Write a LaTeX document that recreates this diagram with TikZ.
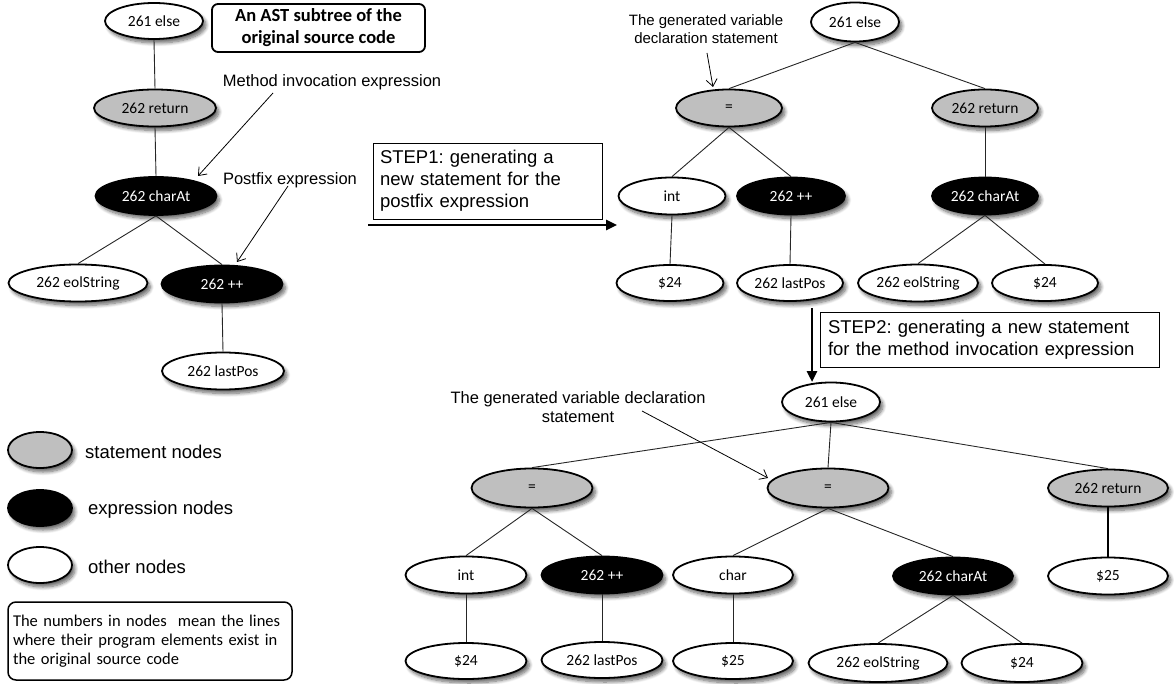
\documentclass[tikz,border=0pt]{standalone}
\usepackage{fontspec}
\setmainfont{Carlito}
\newfontfamily\arial{Liberation Sans}
\usetikzlibrary{shapes.geometric,arrows.meta,shadows.blur}
\definecolor{stmtgray}{RGB}{191,191,191}
\frenchspacing
\tikzset{
  tn/.style={ellipse, draw=black, line width=1.8pt, inner sep=0pt, fill=white,
    font=\fontsize{15.5}{17}\selectfont,
    blur shadow={shadow xshift=3pt, shadow yshift=-4pt, shadow blur steps=8, shadow blur radius=3.5pt, shadow opacity=60}},
  sz/.style 2 args={minimum width=#1pt, minimum height=#2pt},
  stmt/.style={tn, fill=stmtgray},
  expr/.style={tn, fill=black, text=white},
  oth/.style={tn, fill=white},
  edge/.style={draw=black!85, line width=0.9pt},
  annarrow/.style={-{Straight Barb[length=7pt,width=11pt]}, line width=0.8pt},
  steparrow/.style={-{Triangle[length=11pt,width=10pt]}, line width=2.5pt},
  lab/.style={font=\arial\fontsize{16.5}{19}\selectfont, align=center, inner sep=0pt},
  legtext/.style={font=\arial\fontsize{18.5}{21}\selectfont, anchor=west, inner sep=0pt},
  stepbox/.style={draw=black, line width=0.8pt, align=left, font=\arial\fontsize{18.5}{22}\selectfont}
}
\begin{document}
\begin{tikzpicture}[x=1pt,y=-1pt]
\useasboundingbox (0,0) rectangle (1174,684);

% ---------- left tree ----------
\node[oth, sz={98}{36}] (L1) at (154,21) {261 else};
\node[stmt, sz={122}{37}] (L2) at (155,108) {262 return};
\node[expr, sz={121}{38}] (L3) at (156,196) {262 charAt};
\node[oth, sz={139}{37}] (L4) at (78,283) {262 eolString};
\node[expr, sz={121}{37}] (L5) at (222,284) {262 ++};
\node[oth, sz={122}{37}] (L6) at (223,371) {262 lastPos};
\draw[edge] (L1.south) -- (L2.north);
\draw[edge] (L2.south) -- (L3.north);
\draw[edge] (L3.south) -- (L4.north);
\draw[edge] (L3.south) -- (L5.north);
\draw[edge] (L5.south) -- (L6.north);

\node[draw=black, line width=1.8pt, rounded corners=6pt, sz={213}{48}, align=center,
  font=\bfseries\fontsize{18.5}{22}\selectfont] (ast) at (318.5,28) {An AST subtree of the\\original source code};

\node[lab] (mie) at (332,82) {Method invocation expression};
\node[lab] (pfe) at (290,180) {Postfix expression};
\coordinate (m1) at (273,93);
\coordinate (m2) at (198,176);
\coordinate (p1) at (288,186);
\coordinate (p2) at (237,262);
\draw[annarrow] (m1) -- (m2);
\draw[annarrow] (p1) -- (p2);

% ---------- legend ----------
\node[stmt, sz={64}{36}] (lg1) at (40,450) {};
\node[expr, sz={64}{36}] (lg2) at (40,508) {};
\node[oth, sz={64}{36}] (lg3) at (40,565) {};
\node[legtext] (lt1) at (85,452) {statement nodes};
\node[legtext] (lt2) at (88,510) {expression nodes};
\node[legtext] (lt3) at (88,567) {other nodes};
\node[draw=black, line width=1.5pt, rounded corners=8pt, sz={284}{78}, inner xsep=5pt,
  text width=274pt, align=left, font=\fontsize{16.5}{19}\selectfont] (note) at (150,641)
  {The numbers in nodes\ \ mean the lines\\where their program elements exist in\\the original source code};

% ---------- STEP1 ----------
\node[stepbox, sz={229}{76}, inner xsep=7pt, text width=215pt] (st1) at (487.5,181)
  {STEP1: generating a\\new statement for the\\postfix expression};
\coordinate (s1a) at (368,225);
\coordinate (s1b) at (617,225);
\draw[steparrow] (s1a) -- (s1b);

% ---------- top right tree ----------
\node[oth, sz={88}{39}] (R1) at (855,22) {261 else};
\node[stmt, sz={106}{37}] (R2) at (729,108) {=};
\node[stmt, sz={106}{37}] (R3) at (985,108) {262 return};
\node[oth, sz={107}{37}] (R4) at (672,196) {int};
\node[expr, sz={108}{37}] (R5) at (791,196) {262 ++};
\node[expr, sz={106}{37}] (R6) at (985,196) {262 charAt};
\node[oth, sz={107}{36}] (R7) at (670,283) {\$24};
\node[oth, sz={106}{36}] (R8) at (790,283) {262 lastPos};
\node[oth, sz={120}{37}] (R9) at (918,283) {262 eolString};
\node[oth, sz={106}{36}] (R10) at (1045,283) {\$24};
\draw[edge] (R1.south) -- (R2.north);
\draw[edge] (R1.south) -- (R3.north);
\draw[edge] (R2.south) -- (R4.north);
\draw[edge] (R2.south) -- (R5.north);
\draw[edge] (R4.south) -- (R7.north);
\draw[edge] (R5.south) -- (R8.north);
\draw[edge] (R3.south) -- (R6.north);
\draw[edge] (R6.south) -- (R9.north);
\draw[edge] (R6.south) -- (R10.north);

\node[lab, font=\arial\fontsize{15}{18}\selectfont] (gv1) at (706,29) {The generated variable\\declaration statement};
\coordinate (g1) at (707,53);
\coordinate (g2) at (713,87);
\draw[annarrow] (g1) -- (g2);

% ---------- STEP2 ----------
\node[stepbox, sz={339}{55}, inner xsep=8pt, text width=323pt] (st2) at (989.5,339.5)
  {STEP2: generating a new statement\\for the method invocation expression};
\coordinate (s2a) at (812,308);
\coordinate (s2b) at (812,382);
\draw[steparrow] (s2a) -- (s2b);

% ---------- bottom tree ----------
\node[oth, sz={98}{39}] (B1) at (831,402) {261 else};
\node[stmt, sz={121}{39}] (B2) at (532,488) {=};
\node[stmt, sz={121}{39}] (B3) at (828,488) {=};
\node[stmt, sz={120}{37}] (B4) at (1108,488) {262 return};
\node[oth, sz={121}{37}] (B5) at (466,575) {int};
\node[expr, sz={121}{37}] (B6) at (602,575) {262 ++};
\node[oth, sz={120}{37}] (B7) at (733,575) {char};
\node[expr, sz={120}{37}] (B8) at (953,576) {262 charAt};
\node[oth, sz={120}{37}] (B9) at (1108,576) {\$25};
\node[oth, sz={121}{36}] (B10) at (466,661) {\$24};
\node[oth, sz={121}{36}] (B11) at (602,660) {262 lastPos};
\node[oth, sz={120}{36}] (B12) at (733,661) {\$25};
\node[oth, sz={139}{38}] (B13) at (878,663) {262 eolString};
\node[oth, sz={121}{38}] (B14) at (1022,663) {\$24};
\draw[edge] (B1.south) -- (B2.north);
\draw[edge] (B1.south) -- (B3.north);
\draw[edge] (B1.south) -- (B4.north);
\draw[edge] (B2.south) -- (B5.north);
\draw[edge] (B2.south) -- (B6.north);
\draw[edge] (B5.south) -- (B10.north);
\draw[edge] (B6.south) -- (B11.north);
\draw[edge] (B3.south) -- (B7.north);
\draw[edge] (B3.south) -- (B8.north);
\draw[edge] (B7.south) -- (B12.north);
\draw[edge] (B8.south) -- (B13.north);
\draw[edge] (B8.south) -- (B14.north);
\draw[edge, line width=1.6pt, draw=black] (B4.south) -- (B9.north);

\node[lab] (gv2) at (578,407) {The generated variable declaration\\statement};
\coordinate (h1) at (642,411);
\coordinate (h2) at (768,478);
\draw[annarrow] (h1) -- (h2);
\end{tikzpicture}
\end{document}
